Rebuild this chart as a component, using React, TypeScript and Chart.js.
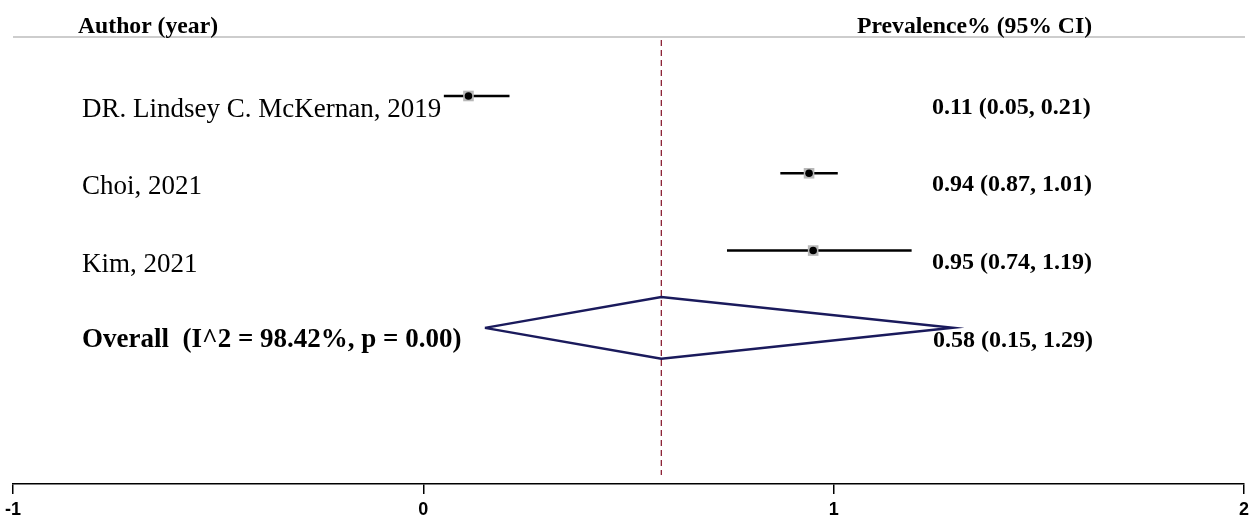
import React, { useEffect, useRef } from "react";
import { Chart, registerables } from "chart.js";

Chart.register(...registerables);

// ---- data ----
const studies = ["DR. Lindsey C. McKernan, 2019", "Choi, 2021", "Kim, 2021"];
const estimates = [0.11, 0.94, 0.95];
const lowers = [0.05, 0.87, 0.74];
const uppers = [0.21, 1.01, 1.19];
const overallLabel = "Overall  (I^2 = 98.42%, p = 0.00)";
const overallEst = 0.58;
const overallLow = 0.15;
const overallHigh = 1.29;
const xTickValues = [-1, 0, 1, 2];
const headerLeft = "Author (year)";
const headerRight = "Prevalence% (95% CI)";

const fmt = (e: number, l: number, h: number) =>
  `${e.toFixed(2)} (${l.toFixed(2)}, ${h.toFixed(2)})`;

const SERIF = "'Liberation Serif', 'Times New Roman', serif";
const SANS = "'Liberation Sans', Arial, sans-serif";

const forestText = {
  id: "forestText",
  beforeDatasetsDraw(chart: any) {
    const { ctx, chartArea, scales } = chart;
    const x = scales.x;
    ctx.save();
    ctx.strokeStyle = "#bdbdbd";
    ctx.lineWidth = 1.5;
    ctx.beginPath();
    ctx.moveTo(chartArea.left, chartArea.top);
    ctx.lineTo(chartArea.right + 1, chartArea.top);
    ctx.stroke();
    const px = x.getPixelForValue(overallEst);
    ctx.strokeStyle = "#8b2035";
    ctx.lineWidth = 1.3;
    ctx.setLineDash([6, 4]);
    ctx.beginPath();
    ctx.moveTo(px, chartArea.top + 3);
    ctx.lineTo(px, chartArea.bottom - 9);
    ctx.stroke();
    ctx.restore();
  },
  afterDatasetsDraw(chart: any) {
    const { ctx, scales } = chart;
    const y = scales.y;
    ctx.save();
    ctx.fillStyle = "#000";
    ctx.textBaseline = "alphabetic";
    ctx.textAlign = "left";
    ctx.font = `bold 23.7px ${SERIF}`;
    ctx.fillText(headerLeft, 78, 33);
    ctx.fillText(headerRight, 857, 33);
    studies.forEach((s, i) => {
      const py = y.getPixelForValue(i);
      ctx.font = `27px ${SERIF}`;
      ctx.fillText(s, 82, py + 21);
      ctx.font = `bold 24px ${SERIF}`;
      ctx.fillText(fmt(estimates[i], lowers[i], uppers[i]), 932, py + 18);
    });
    const oy = y.getPixelForValue(studies.length);
    ctx.font = `bold 27px ${SERIF}`;
    ctx.fillText(overallLabel, 82, oy + 19);
    ctx.font = `bold 24px ${SERIF}`;
    ctx.fillText(fmt(overallEst, overallLow, overallHigh), 933, oy + 19);
    ctx.restore();
  },
};

export default function App() {
  const ref = useRef<HTMLCanvasElement>(null);
  useEffect(() => {
    document.body.style.margin = "0";
    const ciSets = studies.map((_, i) => ({
      type: "scatter" as const,
      data: [
        { x: lowers[i], y: i },
        { x: uppers[i], y: i },
      ],
      showLine: true,
      borderColor: "#000",
      borderWidth: 2.4,
      pointRadius: 0,
      order: 2,
    }));
    const oi = studies.length;
    const chart = new Chart(ref.current as HTMLCanvasElement, {
      type: "scatter",
      data: {
        datasets: [
          {
            data: estimates.map((e, i) => ({ x: e, y: i })),
            pointStyle: "circle",
            pointRadius: 3.8,
            backgroundColor: "#000",
            borderWidth: 0,
            order: 0,
          },
          {
            data: estimates.map((e, i) => ({ x: e, y: i })),
            pointStyle: "rect",
            pointRadius: 7.5,
            backgroundColor: "#b8b8b8",
            borderWidth: 0,
            order: 1,
          },
          ...ciSets,
          {
            data: [
              { x: overallLow, y: oi },
              { x: overallEst, y: oi - 0.4 },
              { x: overallHigh, y: oi },
              { x: overallEst, y: oi + 0.4 },
              { x: overallLow, y: oi },
            ],
            showLine: true,
            borderColor: "#1a1a5c",
            borderWidth: 2.5,
            pointRadius: 0,
            fill: false,
            tension: 0,
            order: 3,
          },
        ] as any,
      },
      options: {
        animation: false,
        responsive: false,
        events: [],
        layout: { padding: { top: 37, left: 12, right: 11, bottom: 0 } },
        plugins: { legend: { display: false }, tooltip: { enabled: false } },
        scales: {
          x: {
            type: "linear",
            min: -1,
            max: 2,
            afterBuildTicks: (scale: any) => {
              scale.ticks = xTickValues.map((v) => ({ value: v }));
            },
            afterFit: (scale: any) => {
              scale.height = 36;
            },
            ticks: {
              color: "#000",
              font: { family: SANS, size: 18, weight: "bold" },
              padding: 5,
              callback: (v: any) => String(v),
            },
            grid: {
              drawOnChartArea: false,
              drawTicks: true,
              tickLength: 10,
              color: "#000",
              lineWidth: 1.5,
            },
            border: { display: true, color: "#000", width: 1.5 },
          },
          y: {
            type: "linear",
            display: false,
            reverse: true,
            min: -0.763,
            max: 5.02,
          },
        },
      } as any,
      plugins: [forestText],
    });
    return () => chart.destroy();
  }, []);
  return (
    <div style={{ width: 1255, height: 520 }}>
      <canvas ref={ref} width={1255} height={520} style={{ display: "block" }} />
    </div>
  );
}
